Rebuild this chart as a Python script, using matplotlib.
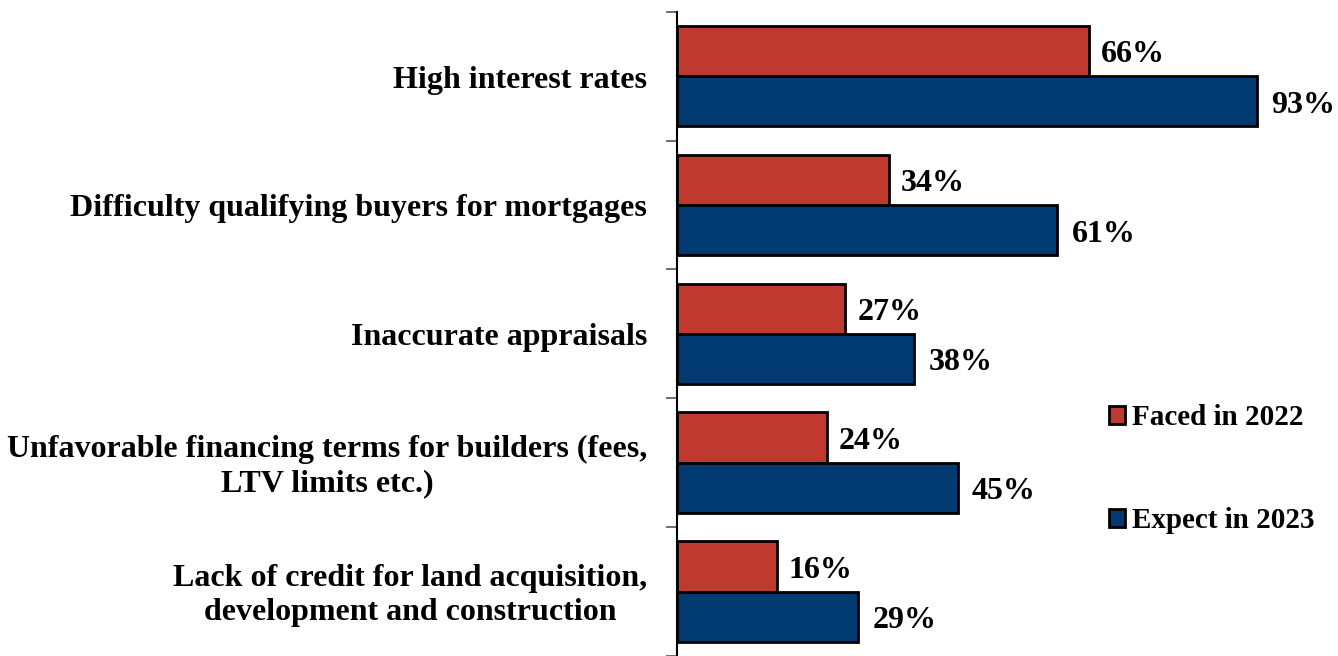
import numpy as np
import matplotlib.pyplot as plt
from matplotlib.patches import Patch

# data
categories = ['High interest rates',
              'Difficulty qualifying buyers for mortgages',
              'Inaccurate appraisals',
              'Unfavorable financing terms for builders (fees,\nLTV limits etc.)',
              'Lack of credit for land acquisition,\ndevelopment and construction']
faced_2022 = [66, 34, 27, 24, 16]
expect_2023 = [93, 61, 38, 45, 29]
series_names = ['Faced in 2022', 'Expect in 2023']

red = '#C0392F'
blue = '#003A70'
plt.rcParams['font.family'] = ['Liberation Serif', 'DejaVu Serif']
plt.rcParams['font.weight'] = 'bold'

fig = plt.figure(figsize=(13.38, 6.56), dpi=100)
ax = fig.add_axes([0.506, 0.0, 0.494, 0.982])

y = np.arange(len(categories))
h = 0.39
ax.barh(y - h / 2, faced_2022, height=h, color=red, edgecolor='black', linewidth=2)
ax.barh(y + h / 2, expect_2023, height=h, color=blue, edgecolor='black', linewidth=2)

for i in range(len(categories)):
    ax.text(faced_2022[i] + 1.9, y[i] - h / 2 + 0.03, f'{faced_2022[i]}%',
            ha='left', va='center', fontsize=23, fontweight='bold')
    ax.text(expect_2023[i] + 2.3, y[i] + h / 2 + 0.03, f'{expect_2023[i]}%',
            ha='left', va='center', fontsize=23, fontweight='bold')
    ax.text(-4.8, y[i] + 0.03, categories[i], ha='right', va='center',
            multialignment='center', fontsize=23, fontweight='bold')

ax.set_xlim(0, 106)
ax.set_ylim(4.5, -0.5)
ax.set_yticks(np.arange(-0.5, 5, 1))
ax.set_yticklabels([])
ax.tick_params(axis='y', length=8, width=1.2, color='#555555')
ax.set_xticks([])
for s in ['top', 'right', 'bottom']:
    ax.spines[s].set_visible(False)
ax.spines['left'].set_linewidth(1.5)

handles = [Patch(facecolor=red, edgecolor='black', linewidth=2),
           Patch(facecolor=blue, edgecolor='black', linewidth=2)]
ax.legend(handles, series_names, loc='center left', bbox_to_anchor=(0.614, 0.29),
          frameon=False, prop={'size': 21, 'weight': 'bold'},
          handlelength=0.55, handleheight=0.55, handletextpad=0.25, labelspacing=2.6)

plt.savefig('out.png')
